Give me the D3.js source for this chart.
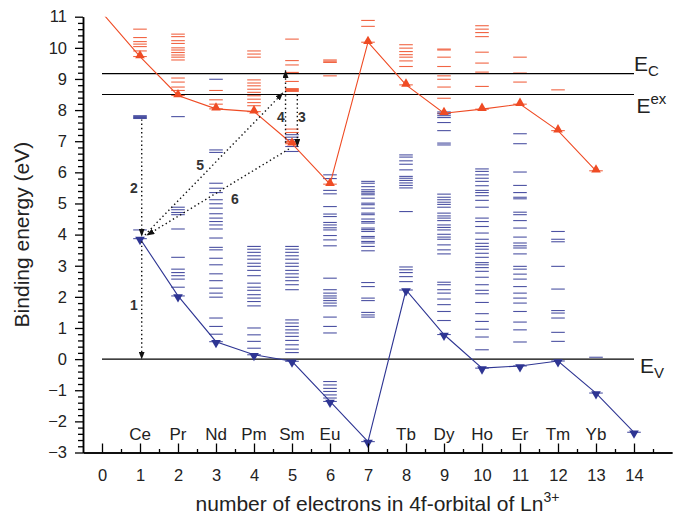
<!DOCTYPE html>
<html>
<head>
<meta charset="utf-8">
<script src="https://cdn.jsdelivr.net/npm/d3@7"></script>
<style>
  body { margin: 0; background: #fff; }
  text { font-family: "Liberation Sans", Arial, Helvetica, sans-serif; }
</style>
</head>
<body>
<div id="chart"></div>
<script>
// number of 4f electrons -> element label (Gd and Lu are not labelled)
let elements = ['', 'Ce', 'Pr', 'Nd', 'Pm', 'Sm', 'Eu', '', 'Tb', 'Dy', 'Ho', 'Er', 'Tm', 'Yb', '']

// Ln2+ (red) curve, n = 0..13
let redPoints = [11.13, 9.72, 8.47, 8.04, 7.95, 6.92, 5.62, 10.18, 8.81, 7.90, 8.03, 8.19, 7.34, 6.05]
// Ln3+ ground state (blue) curve, n = 1..14
let bluePoints = [3.87, 2.03, 0.56, 0.14, -0.07, -1.36, -2.65, 2.22, 0.79, -0.29, -0.22, -0.06, -1.09, -2.35]

// energy levels per n (index = number of 4f electrons)
let redLevels = [
  [],
  [10.60, 10.33, 10.20, 10.12, 10.04, 9.90, 9.72],
  [10.44, 10.36, 10.23, 10.14, 10.00, 9.93, 9.85, 9.77, 9.70, 9.61, 9.03, 8.90, 8.74, 8.63, 8.47],
  [8.63, 8.33, 8.19, 8.04],
  [9.90, 9.80, 9.70, 8.97, 8.87, 8.78, 8.67, 8.57, 8.46, 8.35, 8.24, 8.14, 7.95],
  [10.28, 9.59, 9.45, 9.21, 8.92, 8.60, 8.63, 8.66, 8.69, 7.39, 7.28, 6.99, 6.95, 6.92],
  [9.53, 9.57, 9.61, 9.10, 5.62],
  [10.88, 10.69, 10.18],
  [10.10, 9.99, 9.88, 9.78, 9.70, 9.58, 9.40, 8.81],
  [9.96, 9.93, 9.70, 9.40, 9.10, 8.99, 8.74, 8.38, 7.90],
  [10.71, 10.60, 10.49, 10.36, 9.86, 9.51, 9.22, 8.76, 8.03],
  [9.70, 9.19, 8.90, 8.19],
  [8.65, 7.34],
  [6.05],
  []
]

let blueLevels = [
  [],
  [7.73, 7.76, 7.79, 7.82, 4.15, 3.87],
  [7.79, 4.88, 4.80, 4.71, 4.64, 4.18, 3.27, 2.89, 2.78, 2.68, 2.57, 2.31, 2.03],
  [8.99, 6.72, 6.64, 5.65, 5.49, 5.35, 5.12, 4.99, 4.85, 4.67, 4.53, 4.42, 4.31, 4.18, 3.89, 3.59, 3.51, 3.24, 3.03, 2.74, 2.52, 2.28, 2.12, 1.99, 1.32, 1.05, 0.80, 0.56],
  [3.62, 3.53, 3.43, 3.32, 3.21, 3.08, 2.98, 2.85, 2.68, 2.44, 2.31, 2.21, 2.07, 1.96, 1.85, 1.71, 1.00, 0.78, 0.57, 0.35, 0.14],
  [7.21, 7.13, 7.05, 6.83, 6.67, 3.62, 3.53, 3.43, 3.32, 3.21, 3.08, 2.98, 2.85, 2.74, 2.63, 2.52, 2.39, 2.23, 1.26, 1.16, 1.05, 0.94, 0.84, 0.73, 0.60, 0.46, 0.32, 0.21, -0.07],
  [5.92, 5.80, 5.42, 5.31, 4.90, 4.66, 4.58, 4.39, 4.31, 4.22, 4.15, 3.97, 3.83, 3.64, 2.60, 2.23, 2.12, 2.03, 1.96, 1.88, 1.80, 1.71, 1.35, 1.05, 0.84, -0.72, -0.83, -0.94, -1.04, -1.15, -1.25, -1.36],
  [5.71, 5.65, 5.54, 5.44, 5.38, 5.33, 5.28, 5.17, 5.01, 4.96, 4.85, 4.69, 4.64, 4.50, 4.42, 4.37, 4.21, 4.16, 4.10, 3.94, 3.89, 3.78, 3.73, 3.62, 3.48, 2.46, 2.33, 1.96, 1.88, 1.50, 1.42, 1.35, -2.65],
  [6.56, 6.49, 6.37, 6.26, 6.08, 5.87, 5.81, 5.74, 5.66, 5.58, 5.50, 4.74, 2.96, 2.87, 2.78, 2.65, 2.49, 2.22],
  [7.94, 7.88, 7.82, 7.76, 7.60, 7.34, 6.94, 6.88, 5.30, 5.20, 5.12, 5.04, 4.97, 4.88, 4.69, 4.60, 4.53, 4.45, 4.31, 4.23, 4.15, 4.01, 3.92, 3.85, 3.67, 3.51, 3.38, 2.47, 2.39, 2.23, 2.12, 1.93, 1.75, 1.53, 1.24, 0.79],
  [6.11, 6.03, 5.92, 5.81, 5.71, 5.57, 5.42, 5.35, 5.25, 5.10, 4.88, 4.53, 4.42, 4.26, 4.05, 3.85, 3.72, 3.62, 3.53, 3.40, 3.27, 3.10, 3.03, 2.94, 2.82, 2.63, 2.39, 2.21, 2.10, 1.82, 1.46, 1.21, 0.96, 0.71, 0.30, -0.29],
  [7.24, 6.92, 6.01, 5.58, 5.35, 5.20, 5.15, 4.72, 4.64, 4.45, 4.21, 3.92, 3.73, 3.64, 3.57, 3.38, 2.98, 2.89, 2.73, 2.57, 2.33, 2.12, 1.96, 1.80, 1.53, 1.19, 0.94, 0.55, -0.22],
  [4.10, 3.85, 3.77, 2.98, 2.25, 1.56, 1.48, 1.32, 0.86, 0.57, -0.06],
  [0.06, -1.09],
  [-2.35]
]

// reference energies: conduction band, exciton, valence band
let refNames = ['C', 'ex', 'V']
let refValues = [9.17, 8.5, 0]

// dotted transitions: [x1, E1, x2, E2] (arrow at the second end), with label
let transitions = [
  [1.045, 3.78, 1.045, 0.0],
  [1.045, 7.70, 1.045, 3.95],
  [5.14, 8.49, 5.14, 6.83],
  [4.83, 6.95, 4.83, 9.27],
  [1.13, 3.99, 4.76, 8.55],
  [4.92, 6.75, 1.18, 3.98]
]
let transitionLabels = ['1', '2', '3', '4', '5', '6']
let labelX = [0.84, 0.84, 5.26, 4.71, 2.58, 3.50]
let labelE = [1.74, 5.50, 7.78, 7.78, 6.24, 5.15]

let red = '#ef4b24'
let blue = '#2e3593'

let width = 680
let height = 518

let svg = d3
  .select('#chart')
  .append('svg')
  .attr('width', width)
  .attr('height', height)

let x = d3.scaleLinear().domain([-0.5, 15]).range([83, 672])
let y = d3.scaleLinear().domain([-3, 11]).range([452.5, 16.7])

svg.append('clipPath').attr('id', 'plot')
  .append('rect')
  .attr('x', x(-0.5)).attr('y', y(11))
  .attr('width', x(15) - x(-0.5)).attr('height', y(-3) - y(11))

// arrow head
svg.append('defs').append('marker')
  .attr('id', 'head')
  .attr('viewBox', '0 0 8 6')
  .attr('refX', 7.5).attr('refY', 3)
  .attr('markerWidth', 8).attr('markerHeight', 6)
  .attr('markerUnits', 'userSpaceOnUse')
  .attr('orient', 'auto')
  .append('path')
  .attr('d', 'M0,0 L8,3 L0,6 Z')
  .attr('fill', '#111')

// levels
function drawLevels(levels, color) {
  let flat = []
  levels.forEach((arr, n) => arr.forEach(v => flat.push({ n: n, v: v })))
  svg.append('g')
    .selectAll('line')
    .data(flat)
    .enter()
    .append('line')
    .attr('x1', d => x(d.n) - 6.8)
    .attr('x2', d => x(d.n) + 6.8)
    .attr('y1', d => y(d.v))
    .attr('y2', d => y(d.v))
    .attr('stroke', color)
    .attr('stroke-width', 1.1)
    .attr('opacity', 0.85)
}
drawLevels(redLevels, red)
drawLevels(blueLevels, blue)

// reference lines
svg.append('g')
  .selectAll('line')
  .data(refValues)
  .enter()
  .append('line')
  .attr('x1', x(0)).attr('x2', x(14))
  .attr('y1', d => y(d)).attr('y2', d => y(d))
  .attr('stroke', '#000')
  .attr('stroke-width', 1.2)

// curves
let redLine = d3.line().x((d, i) => x(i)).y(d => y(d))
let blueLine = d3.line().x((d, i) => x(i + 1)).y(d => y(d))

svg.append('path')
  .datum(redPoints)
  .attr('d', redLine)
  .attr('fill', 'none')
  .attr('stroke', red)
  .attr('stroke-width', 1.1)
  .attr('clip-path', 'url(#plot)')

svg.append('path')
  .datum(bluePoints)
  .attr('d', blueLine)
  .attr('fill', 'none')
  .attr('stroke', blue)
  .attr('stroke-width', 1.1)

let tri = d3.symbol().type(d3.symbolTriangle).size(40)

svg.append('g')
  .selectAll('path')
  .data(redPoints.slice(1))
  .enter()
  .append('path')
  .attr('d', tri)
  .attr('transform', (d, i) => 'translate(' + x(i + 1) + ',' + (y(d) - 1) + ')')
  .attr('fill', red)

svg.append('g')
  .selectAll('path')
  .data(bluePoints)
  .enter()
  .append('path')
  .attr('d', tri)
  .attr('transform', (d, i) => 'translate(' + x(i + 1) + ',' + (y(d) + 1) + ') rotate(180)')
  .attr('fill', blue)

// transitions
svg.append('g')
  .selectAll('line')
  .data(transitions)
  .enter()
  .append('line')
  .attr('x1', d => x(d[0])).attr('y1', d => y(d[1]))
  .attr('x2', d => x(d[2])).attr('y2', d => y(d[3]))
  .attr('stroke', '#111')
  .attr('stroke-width', 1.4)
  .attr('stroke-dasharray', '1.4,2.8')
  .attr('marker-end', 'url(#head)')

svg.append('g')
  .selectAll('text')
  .data(transitionLabels)
  .enter()
  .append('text')
  .text(d => d)
  .attr('x', (d, i) => x(labelX[i]))
  .attr('y', (d, i) => y(labelE[i]))
  .attr('dy', '0.36em')
  .attr('text-anchor', 'middle')
  .attr('font-size', '14px')
  .attr('font-weight', 'bold')
  .attr('fill', '#333')

// axes
let yAxis = d3.axisLeft(y)
  .tickValues(d3.range(-3, 12))
  .tickSize(8)
  .tickSizeOuter(0)
  .tickPadding(8)
let yMinor = d3.axisLeft(y)
  .tickValues(d3.range(-3, 11.001, 0.2).filter(v => Math.abs(v - Math.round(v)) > 0.01))
  .tickSize(5)
  .tickSizeOuter(0)
  .tickFormat('')

let gy = svg.append('g').attr('transform', 'translate(' + x(-0.5) + ',0)')
gy.call(yAxis)
svg.append('g').attr('transform', 'translate(' + x(-0.5) + ',0)').call(yMinor)

let xAxis = d3.axisBottom(x)
  .tickValues(d3.range(0, 15))
  .tickSizeInner(-9)
  .tickSizeOuter(0)
  .tickPadding(17)
let xMinor = d3.axisBottom(x)
  .tickValues(d3.range(0.5, 15, 1))
  .tickSizeInner(-3.5)
  .tickSizeOuter(0)
  .tickFormat('')

svg.append('g').attr('transform', 'translate(0,' + y(-3) + ')').call(xAxis)
svg.append('g').attr('transform', 'translate(0,' + y(-3) + ')').call(xMinor)

svg.selectAll('.domain').attr('stroke', '#000').attr('stroke-width', 1.5)
svg.selectAll('.tick line').attr('stroke', '#000').attr('stroke-width', 1.3)
svg.selectAll('.tick text')
  .attr('font-size', '16.5px')
  .attr('fill', '#222')
  .style('font-family', '"Liberation Sans", Arial, sans-serif')

// element names
svg.append('g')
  .selectAll('text')
  .data(elements)
  .enter()
  .append('text')
  .text(d => d)
  .attr('x', (d, i) => x(i))
  .attr('y', y(-3) - 12.5)
  .attr('text-anchor', 'middle')
  .attr('font-size', '17px')
  .attr('fill', '#222')

// reference line labels
let refLabel = svg.append('g')
  .selectAll('text')
  .data(refNames)
  .enter()
  .append('text')
  .attr('x', (d, i) => x(14) + (i == 2 ? 6 : i == 1 ? 2.5 : 0))
  .attr('y', (d, i) => i == 0 ? y(refValues[0]) - 3 : y(refValues[i]) + (i == 1 ? 18 : 14))
  .attr('font-size', '21px')
  .attr('fill', '#222')
refLabel.append('tspan').text('E')
refLabel.append('tspan')
  .text(d => d)
  .attr('font-size', '15px')
  .attr('dy', (d, i) => i == 1 ? -9 : 5)

// axis titles
svg.append('text')
  .attr('x', (x(-0.5) + x(15)) / 2)
  .attr('y', 511)
  .attr('text-anchor', 'middle')
  .attr('font-size', '21px')
  .attr('fill', '#222')
  .text('number of electrons in 4f-orbital of Ln')
  .append('tspan')
  .text('3+')
  .attr('font-size', '14px')
  .attr('dy', -9)

svg.append('text')
  .attr('transform', 'translate(29,' + (y(-3) + y(11)) / 2 + ') rotate(-90)')
  .attr('text-anchor', 'middle')
  .attr('font-size', '21px')
  .attr('fill', '#222')
  .text('Binding energy (eV)')
</script>
</body>
</html>
